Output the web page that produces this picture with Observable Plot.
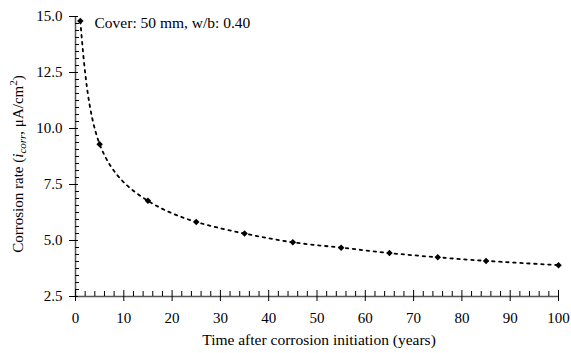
<!DOCTYPE html>
<html>
<head>
<meta charset="utf-8">
<script src="https://cdn.jsdelivr.net/npm/d3@7"></script>
<script src="https://cdn.jsdelivr.net/npm/@observablehq/plot@0.6"></script>
<style>
  html, body { margin: 0; padding: 0; background: #fff; }
  #chart svg { display: block; }
</style>
</head>
<body>
<div id="chart"></div>
<script>
const years = [1, 5, 15, 25, 35, 45, 55, 65, 75, 85, 100];
const icorr = [14.8, 9.3, 6.77, 5.83, 5.31, 4.92, 4.68, 4.44, 4.25, 4.09, 3.9];
const xMajor = [0, 10, 20, 30, 40, 50, 60, 70, 80, 90, 100];
const yMajor = [2.5, 5.0, 7.5, 10.0, 12.5, 15.0];
const annotation = "Cover: 50 mm, w/b: 0.40";
const xLabel = "Time after corrosion initiation (years)";

const data = years.map((t, i) => ({t, v: icorr[i]}));
const xMinor = d3.range(0, 100.001, 2).filter(v => v % 10 !== 0);
const yMinor = d3.range(2.5, 15.0001, 2.5 / 8).filter(v => Math.abs(v / 2.5 - Math.round(v / 2.5)) > 1e-6);

const font = "'Liberation Serif', 'DejaVu Serif', serif";

const chart = Plot.plot({
  width: 571,
  height: 353,
  marginLeft: 75,
  marginRight: 13,
  marginTop: 16,
  marginBottom: 57,
  style: {fontFamily: font, fontSize: "15px", color: "#000", background: "#fff"},
  x: {domain: [0, 100]},
  y: {domain: [2.5, 15]},
  marks: [
    Plot.line(data, {x: "t", y: "v", curve: "natural", stroke: "#000", strokeWidth: 1.8, strokeDasharray: "2.5,4.5"}),
    Plot.dot(data, {x: "t", y: "v", symbol: "square", rotate: 45, r: 2.6, fill: "#000", stroke: "none"}),
    Plot.ruleX([0], {stroke: "#555", strokeWidth: 1.5}),
    Plot.ruleY([2.5], {stroke: "#555", strokeWidth: 1.5}),
    Plot.axisX({ticks: xMajor, tickSize: 5, tickPadding: 11, tickFormat: d => String(d), label: null, fontSize: 15}),
    Plot.axisX({ticks: xMajor, tickSize: -6, tickFormat: null, text: null, label: null}),
    Plot.axisX({ticks: xMinor, tickSize: -5, text: null, label: null}),
    Plot.axisY({ticks: yMajor, tickSize: 6, tickPadding: 7, tickFormat: d => d.toFixed(1), label: null, fontSize: 15}),
    Plot.axisY({ticks: yMajor, tickSize: -3, text: null, label: null}),
    Plot.axisY({ticks: yMinor, tickSize: -4, text: null, label: null}),
    Plot.text([annotation], {frameAnchor: "top-left", dx: 19, dy: 7, fontSize: 15.5, textAnchor: "start", lineAnchor: "middle"}),
    Plot.text([xLabel], {frameAnchor: "bottom", dy: 44, dx: 2, fontSize: 15.5, lineAnchor: "middle"})
  ]
});

document.getElementById("chart").appendChild(chart);

// y-axis label with italic subscript and superscript
const svg = d3.select(chart);
const lab = svg.append("text")
  .attr("transform", "translate(23,164) rotate(-90)")
  .attr("text-anchor", "middle")
  .attr("font-family", font)
  .attr("font-size", 15)
  .attr("fill", "#000");
lab.append("tspan").text("Corrosion rate (");
lab.append("tspan").attr("font-style", "italic").text("i");
lab.append("tspan").attr("font-style", "italic").attr("font-size", 11).attr("dy", 3).text("corr");
lab.append("tspan").attr("dy", -3).text(", μA/cm");
lab.append("tspan").attr("font-size", 11).attr("dy", -6).text("2");
lab.append("tspan").attr("dy", 6).text(")");
</script>
</body>
</html>
